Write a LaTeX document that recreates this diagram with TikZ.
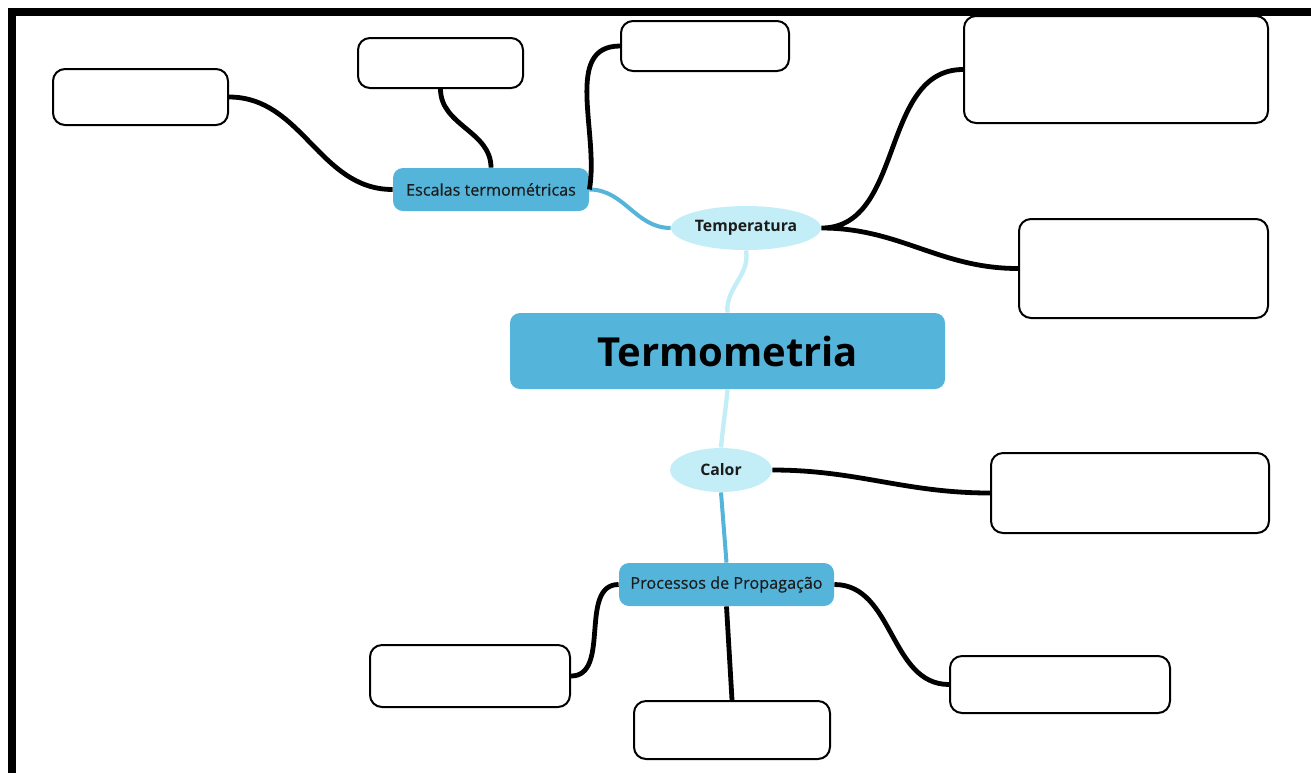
\documentclass[tikz,border=0pt]{standalone}
\usepackage{fontspec}
\setmainfont{Open Sans}
\newfontfamily\medfont[FakeBold=0.4]{Open Sans}
\usetikzlibrary{shapes.geometric}

\definecolor{topicblue}{HTML}{55B4DA}
\definecolor{topiclight}{HTML}{C4EEF7}
\definecolor{inktext}{HTML}{1C1C1C}

\begin{document}
\begin{tikzpicture}[x=0.5pt,y=-0.5pt,
  blank/.style={draw=black, line width=1pt, rounded corners=6pt, fill=white, inner sep=0pt},
  subtopic/.style={fill=topicblue, rounded corners=5pt, inner sep=0pt, text=inktext,
    font=\fontsize{8.1}{9}\medfont, minimum height=21.5pt},
  topic/.style={ellipse, fill=topiclight, inner sep=0pt, text=inktext,
    font=\fontsize{7.9}{9}\selectfont\bfseries, minimum height=22pt},
  branch/.style={line width=2.4pt, black},
  trunk/.style={line width=2.2pt, topiclight},
  twig/.style={line width=2pt, topicblue}]

\useasboundingbox (0,0) rectangle (1311,773);

% frame
\draw[line width=4.25pt] (8,12) -- (1311,12) (12,8) -- (12,773);

% centre and topics
\node[fill=topicblue, rounded corners=5pt, inner sep=0pt, minimum width=217.5pt, minimum height=38pt,
  font=\fontsize{20}{22}\selectfont\bfseries] (termo) at (727.5,351) {Termometria};
\node[topic, minimum width=75pt] (temp) at (746,228) {Temperatura};
\node[topic, minimum width=51pt] (calor) at (721,470) {Calor};
\node[subtopic, minimum width=98pt] (escalas) at (491,189.5) {Escalas termométricas};
\node[subtopic, minimum width=107.5pt] (proc) at (726.5,584.5) {Processos de Propagação};

% empty boxes
\node[blank, minimum width=87.5pt, minimum height=28pt] (esc1) at (140.5,97) {};
\node[blank, minimum width=82.5pt, minimum height=25pt] (esc2) at (440.5,63) {};
\node[blank, minimum width=84pt, minimum height=25pt] (esc3) at (705,46) {};
\node[blank, minimum width=152pt, minimum height=53.5pt] (temp1) at (1116,69.5) {};
\node[blank, minimum width=124.5pt, minimum height=49.5pt] (temp2) at (1143.5,268.5) {};
\node[blank, minimum width=139pt, minimum height=40pt] (calor1) at (1130,493) {};
\node[blank, minimum width=100pt, minimum height=31pt] (proc1) at (470,676) {};
\node[blank, minimum width=98pt, minimum height=29pt] (proc2) at (732,730) {};
\node[blank, minimum width=110pt, minimum height=28.5pt] (proc3) at (1060,684.5) {};

\draw[trunk]
(termo.north) to[out=95,in=-80] (temp.south)
(termo.south) to[out=-95,in=85] (calor.north);

\draw[twig]
(temp.west) to[out=180,in=0] (escalas.east)
(calor.south) -- (proc.north);

\draw[branch]
(escalas.west) to[out=180,in=0] (esc1.east)
(escalas.north) to[out=90,in=-90] (esc2.south)
(escalas.east) to[out=80,in=180] (esc3.west)
(temp.east) to[out=0,in=180] (temp1.west)
(temp.east) to[out=0,in=180] (temp2.west)
(calor.east) to[out=0,in=180] (calor1.west)
(proc.west) to[out=180,in=0] (proc1.east)
(proc.south) -- (proc2.north)
(proc.east) to[out=0,in=180] (proc3.west);

\end{tikzpicture}
\end{document}
